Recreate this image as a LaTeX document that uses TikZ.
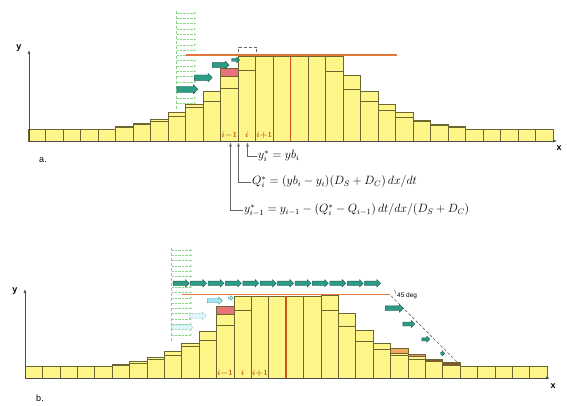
\documentclass[tikz,border=0pt]{standalone}
\usepackage{amsmath}
\usepackage{fontspec}
\setsansfont{Liberation Sans}
\usetikzlibrary{arrows.meta,shapes.arrows}
\definecolor{baryel}{HTML}{FFF68A}
\definecolor{baredge}{HTML}{6A6830}
\definecolor{redtop}{HTML}{E8727A}
\definecolor{crest}{HTML}{E0783E}
\definecolor{divide}{HTML}{D4501E}
\definecolor{fluxfill}{HTML}{2E9C84}
\definecolor{fluxedge}{HTML}{1D5B52}
\definecolor{profile}{HTML}{8AD48A}
\definecolor{idxcol}{HTML}{C0601A}
\begin{document}
\begin{tikzpicture}[x=1pt,y=-1pt,
  bar/.style={fill=baryel,draw=baredge,line width=.6pt},
  lvl/.style={draw=baredge,line width=.6pt},
  flux/.style 2 args={single arrow,draw=fluxedge,fill=fluxfill,line width=.4pt,inner xsep=0pt,inner ysep=#2,single arrow head extend=1.5pt,anchor=west,minimum height=#1},
  hatch/.style 2 args={flux={#1}{#2},densely dotted,draw=fluxfill,fill=cyan!12},
  axis/.style={draw=black!70,line width=.6pt,-{Latex[length=4pt,width=3pt]}},
  ann/.style={draw=black!60,line width=.5pt,-{Latex[length=4pt,width=3pt]}},
  axl/.style={font=\sffamily\bfseries\small,inner sep=1pt},
  idx/.style={font=\footnotesize\bfseries\itshape,text=idxcol,inner sep=0pt},
  eqn/.style={font=\fontsize{11.5}{13}\selectfont,inner sep=1pt,anchor=west}]
\useasboundingbox(0,0)rectangle(567,406);
% panel a
\draw[profile,densely dashed](176.5,11)--(176.5,110);
\foreach\yy in{13,18.3,...,108}\draw[profile,densely dotted,-{Stealth[length=2pt,width=2pt]}](177,\yy)--(196,\yy);
\foreach\t/\m[count=\k from 0]in{129/129,129/129,129/129,129/129,129/129,126.5/127.6,123.3/124.6,119.3/121,112.7/116.7,104.3/107.3,91.7/101.7,76/88.3,56.7/70.7,56.7/56.7,56.7/56.7,56.7/56.7,56.7/56.7,56.7/71,75.7/89.3,91.7/101,104.3/110,112.7/117.3,120/121.3,124/125.7,126.7/127.6,129/129,129/129,129/129,129/129,129/129}
  {\draw[bar](28+17.5*\k,141)rectangle(45.5+17.5*\k,\t);\draw[lvl](28+17.5*\k,\m)--(45.5+17.5*\k,\m);}
\draw[bar,fill=redtop](220.5,68.3)rectangle(238,76);
\draw[crest,line width=1.4pt](186,55)--(397,55);\draw[divide,line width=1.3pt](290.5,56.7)--(290.5,141);
\draw[black!60,densely dashed,line width=.5pt](238.5,52)--(238.5,47)--(256.5,47)--(256.5,52);
\node[flux={21}{2.8}](fa1)at(176.7,89.3){};\node[flux={18}{2.5}](fa2)at(194,77.7){};
\node[flux={17}{2.2}](fa3)at(212,65){};\node[flux={8}{1.3}](fa4)at(231.5,60){};
\draw[axis](29,141)--(29,50);\draw[axis](29,141)--(557,141);
\node[axl](ya)at(19,48){y};\node[axl](xa)at(559,148){x};\node[font=\sffamily\small](la)at(43,160){a.};
\node[idx](ima)at(229.3,135){$\boldsymbol{i{-}1}$};\node[idx](ia)at(246.8,135){$\boldsymbol{i}$};\node[idx](ipa)at(264.3,135){$\boldsymbol{i{+}1}$};
\coordinate(tm)at(230.5,142.5);\coordinate(tq)at(238.5,142.5);\coordinate(ti)at(247.5,142.5);
\node[eqn](ly1)at(257,156){$y_i^*=yb_i$};
\node[eqn](lq)at(251,182){$Q_i^*=(yb_i-y_i)(D_S+D_C)\,dx/dt$};
\node[eqn](ly2)at(243,210){$y_{i-1}^*=y_{i-1}-(Q_i^*-Q_{i-1})\,dt/dx/(D_S+D_C)$};
\draw[ann](ly1.west)-|(ti);\draw[ann](lq.west)-|(tq);\draw[ann](ly2.west)-|(tm);
% panel b
\foreach\yy in{250,255.3,...,340}\draw[profile,densely dotted,-{Stealth[length=2pt,width=2pt]}](172,\yy)--(192,\yy);
\draw[profile,densely dashed](171.5,248)--(171.5,342);
\foreach\t/\m[count=\k from 0]in{366.7/366.7,366.7/366.7,366.7/366.7,366.7/366.7,366.7/366.7,364.3/365.5,361.7/363,357.7/359.5,351.7/355,343.3/346.7,331/340.7,314.3/325,296/310,296/296,296/296,296/296,296/296,295/310,313.3/326.7,330.7/341,343.3/349,353.3/355,356.7/359.3,361.7/361.7,365/365,366.7/366.7,366.7/366.7,366.7/366.7,366.7/366.7,366.7/366.7}
  {\draw[bar](25+17.4*\k,378)rectangle(42.4+17.4*\k,\t);\draw[lvl](25+17.4*\k,\m)--(42.4+17.4*\k,\m);}
\draw[bar,fill=redtop](216.4,306)rectangle(233.8,314.3);
\draw[bar,fill=red!30!baryel!85!brown](390.4,348.3)rectangle(407.8,353.3);
\draw[bar,fill=redtop!80!baryel](407.8,354)rectangle(425.2,356.7);
\draw[bar,fill=brown!70!black](425.2,359.3)rectangle(442.6,361.7);
\draw[bar,fill=brown!70!black](442.6,362.7)rectangle(460,365);
\draw[crest,line width=1.4pt](182,294.3)--(390,294.3)coordinate(c45);\draw[divide,line width=1.3pt](286,296)--(286,378);
\draw[black!60,densely dashed,line width=.6pt](c45)++(1,1.5)--(458,363);
\draw[black!60,line width=.4pt](c45)++(6,0)arc(0:-50:6);
\node[font=\sffamily\fontsize{6.5}{7}\selectfont,anchor=west,inner sep=0pt](deg)at(397,295.5){45 deg};
\foreach\k in{0,...,11}\node[flux={16}{2}](row\k)at(173+17.4*\k,283.3){};
\node[hatch={21}{2.2}](hb1)at(171.7,327.3){};\node[hatch={17}{2.2}](hb2)at(189,315.7){};
\node[flux={15}{1.8},fill=cyan!35,draw=fluxfill](hb3)at(207,300.7){};\node[flux={5}{.8},fill=cyan!35,draw=fluxfill](hb4)at(228,298){};
\node[flux={18}{2.2}](fb1)at(385,308.3){};\node[flux={12}{1.8}](fb2)at(402.7,324){};
\node[flux={8}{1.3}](fb3)at(421.7,339.3){};\node[flux={4}{.9}](fb4)at(440.5,353.3){};
\draw[axis](25,378)--(25,289);\draw[axis](25,378)--(550,378);
\node[axl](yb)at(15,291){y};\node[axl](xb)at(553,386){x};\node[font=\sffamily\small](lb)at(40,398){b.};
\node[idx](imb)at(225,373){$\boldsymbol{i{-}1}$};\node[idx](ib)at(242.6,373){$\boldsymbol{i}$};\node[idx](ipb)at(260,373){$\boldsymbol{i{+}1}$};
\end{tikzpicture}
\end{document}
